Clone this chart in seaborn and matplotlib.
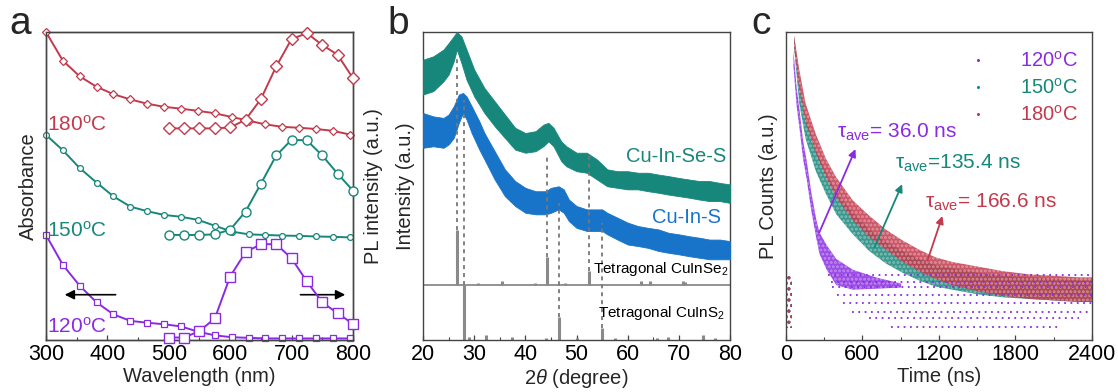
import numpy as np
import matplotlib
matplotlib.use("Agg")
import matplotlib.pyplot as plt
from matplotlib.lines import Line2D
from matplotlib.ticker import MultipleLocator
import seaborn as sns

# ---------------- data ----------------
# (a) absorbance (left axis) and PL (right axis), arbitrary units 0-100
ABS_WL = [300, 327.5, 355, 382.5, 410, 437.5, 465, 492.5, 520, 547.5,
          575, 602.5, 630, 657.5, 685, 712.5, 740, 767.5, 795]
ABS_180 = [100, 90.7, 85.6, 82.2, 79.8, 78.1, 76.7, 75.7, 75.1, 74.4,
           73.6, 72.4, 71.2, 70.0, 69.2, 68.9, 68.5, 67.9, 66.7]
ABS_150 = [66.6, 61.6, 55.8, 51.1, 46.6, 43.3, 41.8, 40.6, 40.0, 39.0,
           37.1, 35.2, 34.3, 34.1, 33.9, 33.8, 33.6, 33.5, 33.3]
ABS_120 = [34.1, 24.4, 17.6, 12.2, 8.3, 6.2, 5.6, 5.1, 4.4, 2.7,
           1.5, 0.9, 0.7, 0.5, 0.5, 0.5, 0.5, 0.5, 0.5]

PL_WL = [500, 525, 550, 575, 600, 625, 650, 675, 700, 725, 750, 775, 800]
PL_180 = [68.7, 68.7, 68.7, 68.7, 69.0, 71.5, 78.2, 88.8, 97.7, 99.6, 95.8, 92.6, 85.0]
PL_150 = [34.1, 34.1, 34.1, 34.3, 35.8, 41.7, 50.7, 59.9, 65.0, 64.8, 59.9, 54.0, 48.5]
PL_120 = [0.8, 0.8, 2.9, 7.0, 20.6, 28.5, 31.1, 31.1, 26.5, 19.0, 12.2, 8.7, 5.2]

TEMP_LABELS = ["120$^{\\rm o}$C", "150$^{\\rm o}$C", "180$^{\\rm o}$C"]

# (b) XRD patterns, drawn as the noise envelope (upper / lower edge)
XRD_SES_2T = [20, 22, 24, 25, 26, 26.6, 27.5, 28.5, 30, 32, 34, 36, 38, 40, 42, 43.5,
              44.5, 45.5, 47, 48, 50, 52, 54, 56, 58, 60, 62, 64, 66, 68, 70, 72,
              74, 76, 78, 80]
XRD_SES_HI = [91.0, 92.1, 94.3, 96.4, 98.6, 100, 98.6, 94.3, 87.8, 81.8, 77.5, 73.2,
              68.9, 67.2, 67.8, 69.9, 70.5, 68.9, 64.5, 62.9, 60.8, 60.8, 58.6, 55.4,
              54.8, 54.8, 54.3, 54.3, 53.7, 53.2, 52.6, 52.1, 51.6, 51.6, 51.0, 50.5]
XRD_SES_LO = [79.7, 80.8, 84.0, 86.2, 90.5, 94.3, 89.9, 84.5, 79.1, 73.7, 69.4, 65.6,
              61.8, 60.8, 61.3, 62.9, 64.5, 62.9, 58.1, 56.4, 54.8, 54.3, 52.1, 49.9,
              49.4, 48.9, 48.9, 48.3, 47.8, 47.2, 46.7, 46.2, 45.6, 45.1, 45.1, 44.5]

XRD_S_2T = [20, 22, 24, 25, 26, 27, 27.8, 28.5, 29.5, 31, 32, 34, 36, 38, 40, 42, 44,
            45, 46.5, 47.5, 48.5, 50, 52, 54, 55, 56, 58, 60, 62, 64, 66, 68, 70, 72,
            74, 76, 78, 80]
XRD_S_HI = [73.7, 72.6, 72.1, 73.2, 75.9, 79.7, 80.2, 79.1, 75.9, 71.0, 67.2, 61.3,
            55.4, 51.6, 49.4, 48.3, 48.3, 49.4, 49.9, 48.9, 45.6, 43.5, 42.4, 42.4,
            42.4, 41.3, 39.7, 38.1, 37.0, 36.4, 35.9, 34.8, 34.3, 33.7, 33.2, 32.6,
            32.6, 32.1]
XRD_S_LO = [62.4, 62.9, 62.4, 63.5, 65.6, 70.5, 73.7, 71.6, 67.2, 61.8, 58.6, 52.1,
            46.7, 43.5, 41.3, 40.8, 40.8, 41.3, 42.4, 41.3, 38.6, 36.4, 35.4, 35.4,
            35.4, 34.3, 32.6, 31.0, 30.5, 29.9, 28.9, 28.3, 27.8, 27.2, 26.7, 26.2,
            26.2, 26.2]

# reference patterns (stick positions and heights)
REF_BASE_SE = 17.8
REF_SE_2T = [26.65, 30.7, 35.5, 41.9, 44.26, 47.8, 52.4, 62.6, 64.3, 70.9, 71.2]
REF_SE_TOP = [35.6, 18.5, 19.1, 18.6, 26.9, 18.5, 22.4, 19.0, 19.1, 19.1, 18.9]
REF_S_2T = [27.96, 29.0, 32.3, 37.3, 44.0, 46.48, 50.1, 55.0, 57.5, 65.8, 67.8, 74.8, 77.0]
REF_S_TOP = [17.8, 0.9, 1.6, 1.0, 0.8, 7.6, 0.6, 4.0, 0.7, 0.5, 1.0, 1.5, 0.6]

GUIDE_2T = [26.65, 27.96, 44.26, 46.48, 52.4, 55.0]
GUIDE_LO = [35.6, 17.8, 26.9, 7.6, 22.4, 4.0]
GUIDE_HI = [91.6, 78.0, 59.7, 44.5, 59.7, 38.0]

# (c) PL decay clouds (lower / upper edge of the point cloud)
T_180 = [60, 100, 150, 230, 310, 390, 520, 650, 780, 910, 1040, 1170, 1300,
         1500, 1700, 1900, 2100, 2300, 2400]
LO_180 = [95, 82, 71, 61, 53, 46.5, 39, 33.5, 29.5, 25.5, 22.5, 20, 18,
          16, 14.5, 13.5, 13, 12.5, 12.5]
HI_180 = [99, 88, 77, 67, 59, 53, 45.5, 40.5, 36, 32.5, 29.5, 27, 25.5,
          24, 22.5, 21.5, 21, 20.5, 20.5]

T_150 = [60, 100, 150, 230, 310, 390, 520, 650, 780, 910, 1040, 1170, 1300,
         1500, 1700, 1900, 2100, 2300, 2400]
LO_150 = [95, 77, 65.5, 55, 47.5, 41, 34.5, 29, 25, 22, 19.5, 17.5, 16.5,
          15, 14, 13.5, 13, 12.5, 12.5]
HI_150 = [99, 84, 72.5, 62, 54.5, 48, 41.5, 36, 32, 29, 26.5, 24.5, 23.5,
          22, 21, 20.5, 20, 19.5, 19.5]

T_120 = [55, 80, 105, 130, 160, 195, 235, 260, 315, 390, 520, 700, 900]
LO_120 = [89, 76, 68, 59, 52, 42, 33, 28, 23, 18, 16.5, 16.8, 17.2]
HI_120 = [94, 82, 74, 65, 58, 48, 39, 35, 31, 26.5, 23, 20.5, 18.5]

# low-count rows of the 120 oC decay
ROW_LEVEL = [21, 18.8, 17.2, 14.6, 12, 9.1, 7.1, 4.2]
ROW_START = [330, 350, 360, 400, 450, 520, 650, 820]
ROW_END = [2400, 2400, 2400, 2400, 2400, 2400, 2300, 2150]

# background counts before the excitation pulse
PRE_T = [0, 45]
PRE_LO = [4, 4]
PRE_HI = [21, 21]

TAU_TEXT = ["τ$_{\\rm ave}$= 36.0 ns", "τ$_{\\rm ave}$=135.4 ns", "τ$_{\\rm ave}$= 166.6 ns"]

# ---------------- style ----------------
sns.set_theme(style="white")
plt.rcParams["font.family"] = ["Liberation Sans", "DejaVu Sans"]
plt.rcParams["mathtext.fontset"] = "custom"
plt.rcParams["mathtext.rm"] = "Liberation Sans"
plt.rcParams["mathtext.it"] = "Liberation Sans:italic"
plt.rcParams["hatch.linewidth"] = 1.4

RED = "#C23A4C"
TEAL = "#17877B"
PURPLE = "#8A2BE2"
BLUE = "#1874C8"
GRAY = "#8A8A8A"
SPINE = "#444444"
TICK_FS = 15.5
LAB_FS = 14.5

fig = plt.figure(figsize=(11.18, 3.92), dpi=100)


def style_axes(ax):
    for s in ax.spines.values():
        s.set_color(SPINE)
        s.set_linewidth(1.0)
    ax.tick_params(axis="x", which="both", direction="in", bottom=True,
                   top=False, labelsize=TICK_FS, colors=SPINE, labelcolor="black", pad=3)
    ax.tick_params(axis="x", which="major", length=3.5, width=0.9)
    ax.tick_params(axis="x", which="minor", length=2, width=0.8)
    ax.tick_params(axis="y", which="both", left=False, right=False,
                   labelleft=False, labelright=False)
    ax.grid(False)


# ---------------- (a) ----------------
ax_a = fig.add_axes([0.0411, 0.1327, 0.2746, 0.7857])
ax_a2 = ax_a.twinx()
for y, c, m in [(ABS_180, RED, "D"), (ABS_150, TEAL, "o"), (ABS_120, PURPLE, "s")]:
    sns.lineplot(x=ABS_WL, y=y, ax=ax_a, color=c, marker=m, markersize=4.2,
                 markerfacecolor="white", markeredgecolor=c, markeredgewidth=0.9,
                 linewidth=1.4, clip_on=False, zorder=3)
for y, c, m in [(PL_180, RED, "D"), (PL_150, TEAL, "o"), (PL_120, PURPLE, "s")]:
    sns.lineplot(x=PL_WL, y=y, ax=ax_a2, color=c, marker=m, markersize=6.5,
                 markerfacecolor="white", markeredgecolor=c, markeredgewidth=1.0,
                 linewidth=1.4, clip_on=False, zorder=3)
for ax in (ax_a, ax_a2):
    ax.set_xlim(300, 800)
    ax.set_ylim(0, 100)
    style_axes(ax)
ax_a.xaxis.set_major_locator(MultipleLocator(100))
ax_a.xaxis.set_minor_locator(MultipleLocator(50))
ax_a.set_xlabel("Wavelength (nm)", fontsize=LAB_FS, labelpad=1)
ax_a.set_ylabel("Absorbance", fontsize=LAB_FS, labelpad=6)
ax_a2.set_ylabel("PL intensity (a.u.)", fontsize=LAB_FS, labelpad=8)
ax_a2.yaxis.set_label_position("right")

ax_a.text(302, 69.8, TEMP_LABELS[2], color=RED, fontsize=15, ha="left", va="center")
ax_a.text(302, 35.6, TEMP_LABELS[1], color=TEAL, fontsize=15, ha="left", va="center")
ax_a.text(302, 1.2, TEMP_LABELS[0], color=PURPLE, fontsize=15, ha="left", va="bottom")
ax_a.annotate("", xy=(326, 14.7), xytext=(418, 14.7),
              arrowprops=dict(arrowstyle="-|>", color="black", lw=1.2, mutation_scale=14))
ax_a.annotate("", xy=(792, 14.7), xytext=(710, 14.7),
              arrowprops=dict(arrowstyle="-|>", color="black", lw=1.2, mutation_scale=14))
fig.text(0.008, 0.985, "a", fontsize=28, ha="left", va="top")

# ---------------- (b) ----------------
ax_b = fig.add_axes([0.3784, 0.1327, 0.2746, 0.7857])
ax_b.fill_between(XRD_SES_2T, XRD_SES_LO, XRD_SES_HI, color=TEAL, lw=0.6, edgecolor=TEAL, zorder=3)
ax_b.fill_between(XRD_S_2T, XRD_S_LO, XRD_S_HI, color=BLUE, lw=0.6, edgecolor=BLUE, zorder=3)
ax_b.axhline(REF_BASE_SE, color=GRAY, lw=1.3, zorder=2)
ax_b.vlines(REF_SE_2T, REF_BASE_SE, REF_SE_TOP, colors=GRAY, lw=2.2, zorder=2)
ax_b.vlines(REF_S_2T, 0, REF_S_TOP, colors=GRAY, lw=2.2, zorder=2)
ax_b.vlines(GUIDE_2T, GUIDE_LO, GUIDE_HI, colors="#777777", lw=1.3,
            linestyles=(0, (2.2, 2.2)), zorder=4)
ax_b.set_xlim(20, 80)
ax_b.set_ylim(0, 100)
style_axes(ax_b)
ax_b.xaxis.set_major_locator(MultipleLocator(10))
ax_b.xaxis.set_minor_locator(MultipleLocator(5))
ax_b.set_xlabel("2$\\it{\\theta}$ (degree)", fontsize=LAB_FS, labelpad=1)
ax_b.set_ylabel("Intensity (a.u.)", fontsize=LAB_FS, labelpad=6)
ax_b.text(79.2, 59.7, "Cu-In-Se-S", color=TEAL, fontsize=14.5, ha="right", va="center", zorder=5)
ax_b.text(78.3, 39.7, "Cu-In-S", color=BLUE, fontsize=14.5, ha="right", va="center", zorder=5)
ax_b.text(79.6, 23.0, "Tetragonal CuInSe$_2$", color="black", fontsize=11,
          ha="right", va="center", zorder=5)
ax_b.text(79.0, 8.6, "Tetragonal CuInS$_2$", color="black", fontsize=11,
          ha="right", va="center", zorder=5)
fig.text(0.347, 0.985, "b", fontsize=28, ha="left", va="top")

# ---------------- (c) ----------------
ax_c = fig.add_axes([0.7030, 0.1327, 0.2737, 0.7857])
for t, lo, hi, c in [(T_120, LO_120, HI_120, PURPLE),
                     (T_150, LO_150, HI_150, TEAL),
                     (T_180, LO_180, HI_180, RED)]:
    ax_c.fill_between(t, lo, hi, facecolor=c, alpha=0.85, lw=0, zorder=2)
    ax_c.fill_between(t, lo, hi, facecolor="none", edgecolor="white", hatch="....",
                      lw=0, alpha=0.35, zorder=2)
    ax_c.fill_between(PRE_T, PRE_LO, PRE_HI, facecolor="none", edgecolor=c,
                      hatch="...", lw=0, zorder=2)
ax_c.hlines(ROW_LEVEL, ROW_START, ROW_END, colors=PURPLE, lw=1.3,
            linestyles=(0, (1, 2.5)), zorder=3)
ax_c.set_xlim(0, 2400)
ax_c.set_ylim(0, 100)
style_axes(ax_c)
ax_c.xaxis.set_major_locator(MultipleLocator(600))
ax_c.xaxis.set_minor_locator(MultipleLocator(300))
ax_c.set_xlabel("Time (ns)", fontsize=LAB_FS, labelpad=1)
ax_c.set_ylabel("PL Counts (a.u.)", fontsize=LAB_FS, labelpad=6)

ax_c.annotate("", xy=(554, 62.8), xytext=(253, 34.1),
              arrowprops=dict(arrowstyle="-|>", color=PURPLE, lw=1.3, mutation_scale=11), zorder=5)
ax_c.annotate("", xy=(920, 51.4), xytext=(685, 29.2),
              arrowprops=dict(arrowstyle="-|>", color=TEAL, lw=1.3, mutation_scale=11), zorder=5)
ax_c.annotate("", xy=(1234, 41.1), xytext=(1103, 24.9),
              arrowprops=dict(arrowstyle="-|>", color=RED, lw=1.3, mutation_scale=11), zorder=5)
ax_c.text(400, 67.5, TAU_TEXT[0], color=PURPLE, fontsize=15, ha="left", va="center", zorder=6)
ax_c.text(855, 57.3, TAU_TEXT[1], color=TEAL, fontsize=15, ha="left", va="center", zorder=6)
ax_c.text(1090, 44.8, TAU_TEXT[2], color=RED, fontsize=15, ha="left", va="center", zorder=6)

handles = [Line2D([], [], ls="none", marker="o", markersize=2.2, color=c, markeredgewidth=0)
           for c in (PURPLE, TEAL, RED)]
leg = ax_c.legend(handles, TEMP_LABELS, loc="upper right", bbox_to_anchor=(1.0, 0.985),
                  frameon=False, fontsize=14.5, handlelength=1.0, handletextpad=1.6,
                  labelspacing=0.35, borderaxespad=0.3)
for txt, c in zip(leg.get_texts(), (PURPLE, TEAL, RED)):
    txt.set_color(c)
fig.text(0.672, 0.985, "c", fontsize=28, ha="left", va="top")

fig.savefig("out.png", dpi=100)
